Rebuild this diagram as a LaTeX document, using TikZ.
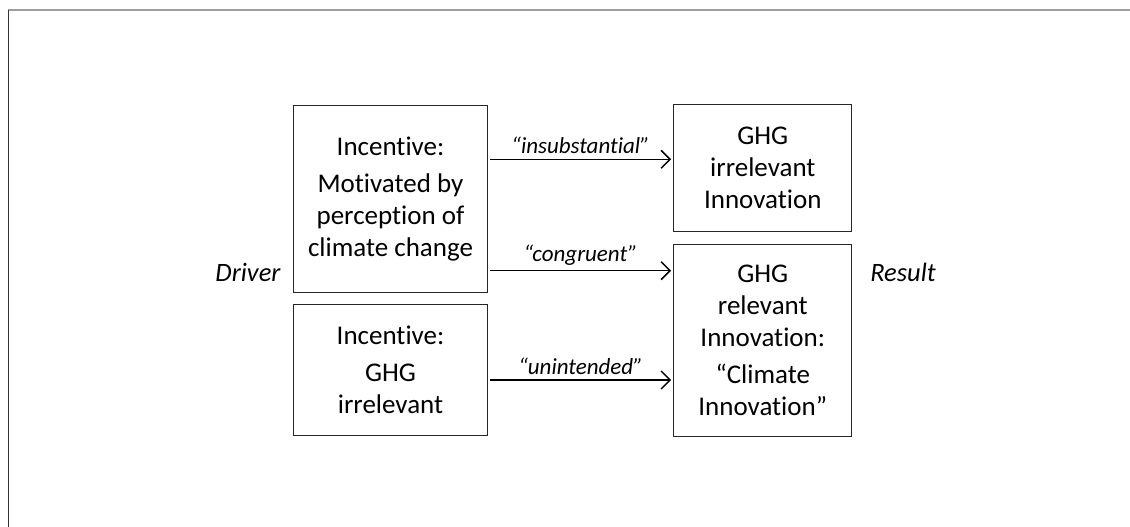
\documentclass[tikz,border=0pt]{standalone}
\usepackage{fontspec}
\setmainfont[Ligatures={NoCommon}]{Carlito}
\usetikzlibrary{arrows.meta}
\begin{document}
\begin{tikzpicture}[x=1pt,y=-1pt,
  box/.style={draw=black!85, line width=1.3pt, align=center, inner sep=0pt,
    font=\fontsize{27}{32}\selectfont},
  arr/.style={draw=black, line width=1.5pt, -{Straight Barb[length=9pt,width=18pt,line width=1.5pt]}},
  lab/.style={font=\fontsize{23}{26}\selectfont\itshape, inner sep=0pt},
  side/.style={font=\fontsize{26.5}{30}\selectfont\itshape, inner sep=0pt}]
\useasboundingbox (0,0) rectangle (1130,527);
\draw[gray!75, line width=2pt] (8,10) -- (1130,10);
\draw[black!80, line width=1pt] (8,10) -- (8,527);
\node[box, minimum width=194pt, minimum height=187pt] (A) at (390.5,198.7)
  {Incentive:\\[5pt]Motivated by\\perception of\\climate change};
\node[box, minimum width=194pt, minimum height=131pt] (B) at (390.5,370.3)
  {Incentive:\\[5pt]GHG\\irrelevant};
\node[box, minimum width=178pt, minimum height=127pt] (C) at (762.8,168.3)
  {GHG\\irrelevant\\Innovation};
\node[box, minimum width=178pt, minimum height=192pt] (D) at (762.8,340.2)
  {GHG\\relevant\\Innovation:\\[5pt]“Climate\\Innovation”};
\node[side] (drv) at (248,272) {Driver};
\node[side] (res) at (903,272) {Result};
\draw[arr] ([xshift=2pt]A.east |- 0,159.3) -- node[lab, above=5pt] (l1) {“insubstantial”} ([xshift=-2pt]C.west |- 0,159.3);
\draw[arr] ([xshift=2pt]A.east |- 0,270.7) -- node[lab, above=5pt] (l2) {“congruent”} ([xshift=-2pt]D.west |- 0,270.7);
\draw[arr] ([xshift=2pt]B.east |- 0,380) -- node[lab, above=5pt] (l3) {“unintended”} ([xshift=-2pt]D.west |- 0,380);
\end{tikzpicture}
\end{document}
